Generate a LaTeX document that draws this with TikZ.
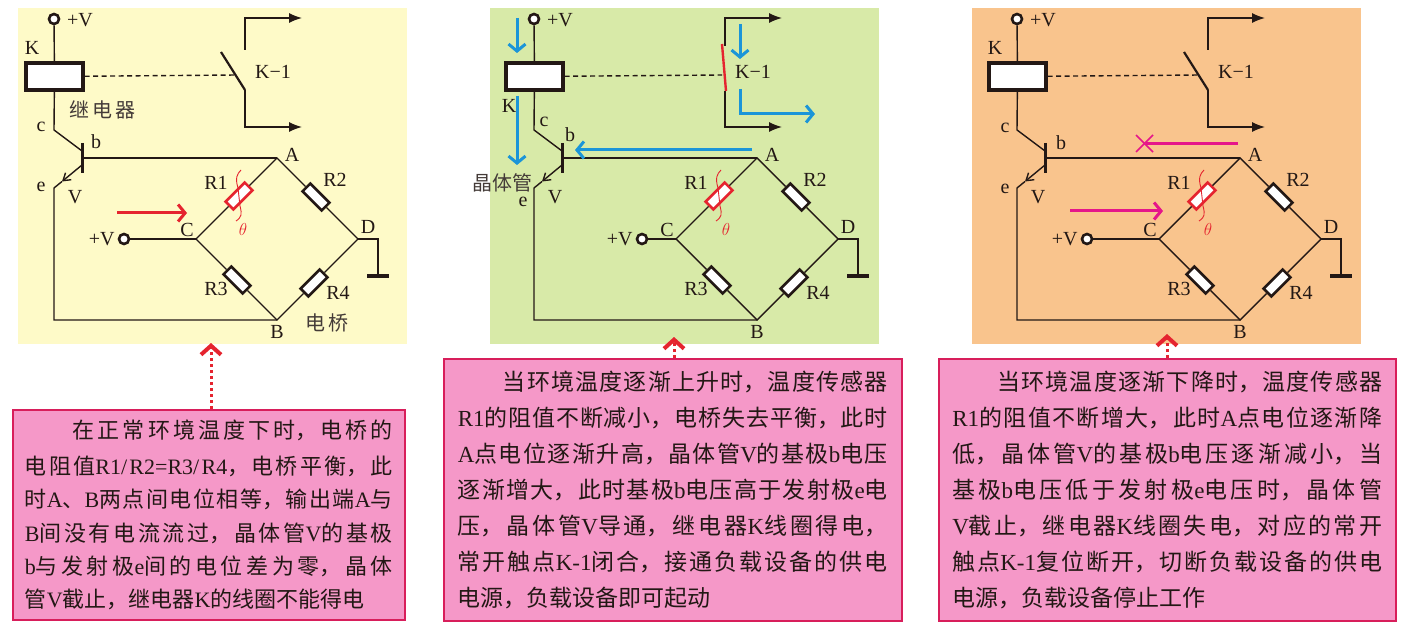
\documentclass[tikz,border=0pt]{standalone}
\usepackage{xcolor}
\usepackage{fontspec}
\usetikzlibrary{arrows.meta}
\setmainfont{Noto Sans CJK SC}
\newfontfamily\serifrm{Liberation Serif}
\newcommand{\lat}[1]{{\serifrm #1}}
\XeTeXlinebreaklocale "zh"
\XeTeXlinebreakskip=0pt plus 12pt
\definecolor{ink}{HTML}{231815}
\definecolor{paneyellow}{HTML}{FEFAC8}
\definecolor{panegreen}{HTML}{D8EAA8}
\definecolor{paneorange}{HTML}{F9C48D}
\definecolor{notepink}{HTML}{F598C8}
\definecolor{noteedge}{HTML}{D81E5B}
\definecolor{hotred}{HTML}{E5242F}
\definecolor{flowblue}{HTML}{1B95D8}
\definecolor{magentaflow}{HTML}{E5168A}
\tikzset{
  wire/.style={draw=ink, line width=1.4pt},
  pane/.style={draw=none, inner sep=0pt, outer sep=0pt, anchor=north west},
  term/.style={circle, draw=ink, fill=white, line width=2.6pt, minimum size=10pt, inner sep=0pt},
  relay/.style={rectangle, draw=ink, fill=white, line width=3.2pt, minimum width=57pt, minimum height=27pt, inner sep=0pt},
  res/.style={rectangle, draw=ink, fill=white, line width=2.6pt, minimum width=27pt, minimum height=11pt, inner sep=0pt},
  lab/.style={text=ink, inner sep=0pt, font=\serifrm\fontsize{20}{22}\selectfont},
  cjklab/.style={text=ink!85, inner sep=0pt, font=\fontsize{20}{22}\selectfont},
  thetalab/.style={text=hotred, inner sep=0pt, font=\fontsize{17}{17}\selectfont},
  output/.style={wire, -{Latex[length=13pt,width=10pt]}},
  flow/.style={draw=flowblue, line width=3pt, -{Straight Barb[length=7pt,width=17pt,line width=3pt]}},
  hotflow/.style={draw=hotred, line width=3pt, -{Straight Barb[length=7pt,width=17pt,line width=3pt]}},
  pinkflow/.style={draw=magentaflow, line width=3pt, -{Straight Barb[length=7pt,width=17pt,line width=3pt]}},
  note/.style={rectangle, draw=noteedge, fill=notepink, line width=1.6pt, anchor=north west, inner ysep=0pt, align=justify, text=ink},
  pointer/.style={draw=hotred, line width=3pt, dash pattern=on 3pt off 3pt, -{Straight Barb[length=9pt,width=20pt,line width=4pt]}},
}
% the part shared by all three circuits, #1 = x of the left +V terminal
\newcommand{\bridgecircuit}[1]{
  \coordinate (A) at (277,158);
  \coordinate (B) at (277,320);
  \coordinate (C) at (196,239);
  \coordinate (D) at (358,239);
  \coordinate (col) at (54,130);
  \coordinate (colend) at (82,151);
  \coordinate (base) at (82,158);
  \coordinate (barT) at (82,143);
  \coordinate (barB) at (82,173);
  \coordinate (emistart) at (82,165);
  \coordinate (emimid) at (62,181.5);
  \coordinate (emi) at (54,188);
  \coordinate (corner) at (54,320);
  \coordinate (gnd) at (378,239);
  \coordinate (gndend) at (378,276);
  \coordinate (gndL) at (367,276);
  \coordinate (gndR) at (389,276);
  \node[res, draw=hotred, rotate=45] (Ra) at (239,196) {};
  \node[res, rotate=-45] (Rb) at (316,197) {};
  \node[res, rotate=-45] (Rc) at (237,280) {};
  \node[res, rotate=45] (Rd) at (314,283) {};
  \node[term] (vtop) at (54,19) {};
  \node[relay] (relay) at (54.5,76.5) {};
  \node[term] (vin) at (#1,239) {};
  \draw[wire] (vtop) -- (relay);
  \draw[wire] (relay) -- (col) -- (colend);
  \draw[wire] (base) -- (A);
  \draw[wire, line width=3pt] (barT) -- (barB);
  \draw[wire, -{Straight Barb[length=7pt,width=9pt]}] (emistart) -- (emimid);
  \draw[wire] (emimid) -- (emi) -- (corner) -- (B);
  \draw[wire] (vin) -- (C);
  \draw[wire] (C) -- (Ra) -- (A) -- (Rb) -- (D) -- (Rd) -- (B) -- (Rc) -- (C);
  \draw[wire] (D) -- (gnd) -- (gndend);
  \draw[wire, line width=3pt] (gndL) -- (gndR);
  \draw[draw=hotred, line width=0.9pt] (241,170) .. controls (237,174) and (235,178) .. (238,188) -- (240,206) .. controls (242,214) and (242,217) .. (236,221);
  \node[lab] (vtoplab) at (80,20) {+V};
  \node[lab, left=3pt] (vinlab) at (vin.west) {+V};
  \node[lab] (Alab) at (292,155) {A};
  \node[lab] (Blab) at (277,332) {B};
  \node[lab] (Clab) at (187,230) {C};
  \node[lab] (Dlab) at (368,227) {D};
  \node[lab] (Vlab) at (75,197) {V};
  \node[lab] (Ralab) at (216,183) {R1};
  \node[lab] (Rblab) at (335,180) {R2};
  \node[lab] (Rclab) at (216,289) {R3};
  \node[lab] (Rdlab) at (338,293) {R4};
}
% the open contact of panels one and three
\newcommand{\opencontact}{
  \coordinate (swT) at (245,50);
  \coordinate (swTc) at (245,18);
  \coordinate (swTo) at (302,18);
  \coordinate (swB) at (245,90);
  \coordinate (swBc) at (245,127);
  \coordinate (swBo) at (302,127);
  \coordinate (blade) at (221,52);
  \coordinate (dash) at (237,75);
  \draw[output] (swT) -- (swTc) -- (swTo);
  \draw[output] (swB) -- (swBc) -- (swBo);
  \draw[wire, line width=2.2pt] (blade) -- (swB);
  \draw[wire, dash pattern=on 5pt off 3.5pt] (relay) -- (dash);
  \node[lab] (kswlab) at (273,72) {K−1};
}

\begin{document}
\begin{tikzpicture}[x=1pt, y=-1pt]
  \useasboundingbox (0,0) rectangle (1410,628);
  \node[pane, fill=paneyellow, minimum width=389pt, minimum height=336pt] (paneA) at (18,8) {};
  \node[pane, fill=panegreen, minimum width=389pt, minimum height=336pt] (paneB) at (490,8) {};
  \node[pane, fill=paneorange, minimum width=389pt, minimum height=336pt] (paneC) at (972,8) {};
  % normal temperature
  \begin{scope}
    \bridgecircuit{124}
    \opencontact
    \node[lab] (klab) at (32,48) {K};
    \node[lab] (clab) at (41,127) {c};
    \node[lab] (blab) at (96,142) {b};
    \node[lab] (elab) at (41,187) {e};
    \node[cjklab] (relaylab) at (102,110) {继\hspace{3pt}电\hspace{3pt}器};
    \node[cjklab] (bridgelab) at (327,323) {电\hspace{3pt}桥};
    \node[thetalab] (thetaA) at (243,230) {$\theta$};
    \coordinate (inS) at (117,213);
    \coordinate (inE) at (187,213);
    \draw[hotflow] (inS) -- (inE);
  \end{scope}
  % temperature rising
  \begin{scope}[xshift=480pt]
    \bridgecircuit{162}
    \coordinate (swT) at (245,18);
    \coordinate (swTo) at (302,18);
    \coordinate (swTb) at (245,46);
    \coordinate (swB) at (245,91);
    \coordinate (swBc) at (245,127);
    \coordinate (swBo) at (302,127);
    \coordinate (bladeT) at (242,44);
    \coordinate (bladeB) at (246,91);
    \coordinate (dash) at (242,75);
    \draw[output] (swTb) -- (swT) -- (swTo);
    \draw[output] (swB) -- (swBc) -- (swBo);
    \draw[draw=hotred, line width=2.4pt] (bladeT) -- (bladeB);
    \draw[wire, dash pattern=on 5pt off 3.5pt] (relay) -- (dash);
    \node[lab] (kswlab) at (273,72) {K−1};
    \node[lab] (klab) at (29,106) {K};
    \node[lab] (clab) at (64,122) {c};
    \node[lab] (blab) at (90,135) {b};
    \node[lab] (elab) at (43,202) {e};
    \node[cjklab, anchor=east] (transistorlab) at (53,183) {晶体管};
    \node[thetalab] (thetaB) at (246,230) {$\theta$};
    \coordinate (fa) at (37,18);
    \coordinate (fb) at (37,53);
    \coordinate (fc) at (37,96);
    \coordinate (fd) at (37,165);
    \coordinate (fe) at (272,150);
    \coordinate (ff) at (95,150);
    \coordinate (fg) at (260,24);
    \coordinate (fh) at (260,59);
    \coordinate (fi) at (260,89);
    \coordinate (fj) at (260,114);
    \coordinate (fk) at (335,114);
    \draw[flow] (fa) -- (fb);
    \draw[flow] (fc) -- (fd);
    \draw[flow] (fe) -- (ff);
    \draw[flow] (fg) -- (fh);
    \draw[flow] (fi) -- (fj) -- (fk);
  \end{scope}
  % temperature falling
  \begin{scope}[xshift=963pt]
    \bridgecircuit{124}
    \opencontact
    \node[lab] (klab) at (32,48) {K};
    \node[lab] (clab) at (42,128) {c};
    \node[lab] (blab) at (98,143) {b};
    \node[lab] (elab) at (42,189) {e};
    \node[thetalab] (thetaC) at (245,230) {$\theta$};
    \coordinate (inS) at (107,211);
    \coordinate (inE) at (200,211);
    \coordinate (baS) at (275,144);
    \coordinate (baE) at (183,144);
    \coordinate (xa) at (173,135);
    \coordinate (xb) at (190,152);
    \coordinate (xc) at (173,152);
    \coordinate (xd) at (190,135);
    \draw[pinkflow] (inS) -- (inE);
    \draw[draw=magentaflow, line width=3pt] (baS) -- (baE);
    \draw[draw=magentaflow, line width=1.6pt] (xa) -- (xb);
    \draw[draw=magentaflow, line width=1.6pt] (xc) -- (xd);
  \end{scope}
  % the three notes
  \node[note, text width=368pt, inner xsep=12pt, minimum height=210pt, font=\fontsize{22}{33.3}\selectfont] (noteA) at (12,409) {\vspace*{3pt}\hspace*{48pt}在正常环境温度下时，电桥的\linebreak 电阻值\lat{R1/R2=R3/R4}，电桥平衡，此\linebreak 时\lat{A}、\lat{B}两点间电位相等，输出端\lat{A}与\linebreak \lat{B}间没有电流流过，晶体管\lat{V}的基极\linebreak \lat{b}与发射极\lat{e}间的电位差为零，晶体\linebreak 管\lat{V}截止，继电器\lat{K}的线圈不能得电};
  \node[note, text width=430pt, inner xsep=14pt, minimum height=262pt, font=\fontsize{23}{36}\selectfont] (noteB) at (443,358) {\hspace*{45pt}当环境温度逐渐上升时，温度传感器\linebreak \lat{R1}的阻值不断减小，电桥失去平衡，此时\linebreak \lat{A}点电位逐渐升高，晶体管\lat{V}的基极\lat{b}电压\linebreak 逐渐增大，此时基极\lat{b}电压高于发射极\lat{e}电\linebreak 压，晶体管\lat{V}导通，继电器\lat{K}线圈得电，\linebreak 常开触点\lat{K-1}闭合，接通负载设备的供电\linebreak 电源，负载设备即可起动};
  \node[note, text width=430pt, inner xsep=13.5pt, minimum height=262pt, font=\fontsize{23}{36}\selectfont] (noteC) at (938,358) {\hspace*{45pt}当环境温度逐渐下降时，温度传感器\linebreak \lat{R1}的阻值不断增大，此时\lat{A}点电位逐渐降\linebreak 低，晶体管\lat{V}的基极\lat{b}电压逐渐减小，当\linebreak 基极\lat{b}电压低于发射极\lat{e}电压时，晶体管\linebreak \lat{V}截止，继电器\lat{K}线圈失电，对应的常开\linebreak 触点\lat{K-1}复位断开，切断负载设备的供电\linebreak 电源，负载设备停止工作};
  \coordinate (tipA) at (211,343);
  \coordinate (tipB) at (674,337);
  \coordinate (tipC) at (1167,334);
  \draw[pointer] (noteA.north -| tipA) -- (tipA);
  \draw[pointer] (noteB.north -| tipB) -- (tipB);
  \draw[pointer] (noteC.north -| tipC) -- (tipC);
\end{tikzpicture}
\end{document}
